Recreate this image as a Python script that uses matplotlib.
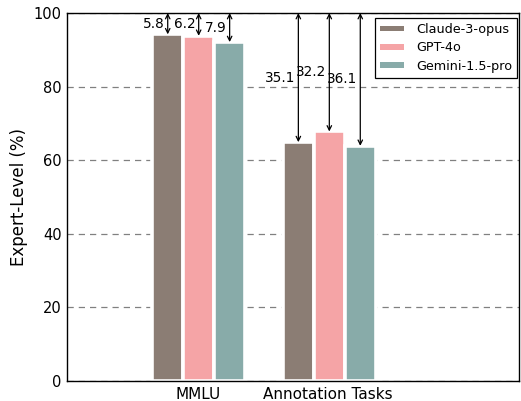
import numpy as np
import matplotlib
matplotlib.use("Agg")
import matplotlib.pyplot as plt
from matplotlib.patches import Patch

# data
tasks = ["MMLU", "Annotation Tasks"]
models = ["Claude-3-opus", "GPT-4o", "Gemini-1.5-pro"]
gaps = {
    "Claude-3-opus": [5.8, 35.1],
    "GPT-4o": [6.2, 32.2],
    "Gemini-1.5-pro": [7.9, 36.1],
}
colors = ["#8b7d74", "#f5a4a6", "#88aba9"]
yticks = [0, 20, 40, 60, 80, 100]

fig = plt.figure(figsize=(5.21, 4.01), dpi=100)
ax = fig.add_axes([67 / 521, 20 / 401, (519 - 67) / 521, (381 - 13) / 401])

x = np.arange(len(tasks))
pitch = 0.237

for i, (m, c) in enumerate(zip(models, colors)):
    scores = [100 - g for g in gaps[m]]
    xs = x + (i - 1) * pitch + 0.008
    ax.bar(xs, scores, pitch, color=c, edgecolor="white", linewidth=2.6,
           zorder=2)
    for xi, s, g in zip(xs, scores, gaps[m]):
        ax.annotate("", xy=(xi, s), xytext=(xi, 100),
                    arrowprops=dict(arrowstyle="<->", color="black", lw=0.9,
                                    shrinkA=0, shrinkB=0, mutation_scale=8),
                    zorder=3)
        ax.annotate("%.1f" % g, xy=(xi, (s + 100) / 2), xytext=(-2, 0),
                    textcoords="offset points", ha="right", va="center",
                    fontsize=9.8, zorder=4)

ax.set_xlim(-1.0, 2.46)
ax.set_ylim(0, 100)
ax.set_yticks(yticks)
ax.set_xticks(x)
ax.set_xticklabels(tasks, fontsize=11)
ax.tick_params(axis="y", labelsize=10.5)
ax.tick_params(length=0, pad=4)
ax.set_ylabel("Expert-Level (%)", fontsize=12)
ax.yaxis.grid(True, linestyle=(0, (5, 4)), color="gray", lw=0.9)
ax.set_axisbelow(True)
for s in ax.spines.values():
    s.set_color("black")
    s.set_linewidth(1.0)
    s.set_zorder(5)

handles = [Patch(facecolor=c, edgecolor="none", label=m)
           for m, c in zip(models, colors)]
leg = ax.legend(handles=handles, loc="upper right", fontsize=9.2,
                fancybox=False, edgecolor="black", framealpha=1,
                handlelength=1.9, handleheight=0.3, handletextpad=0.9,
                labelspacing=0.42,
                bbox_to_anchor=(517 / 521, (401 - 18) / 401),
                bbox_transform=fig.transFigure, borderaxespad=0)
leg.get_frame().set_linewidth(0.9)

fig.savefig("out.png", dpi=100)
